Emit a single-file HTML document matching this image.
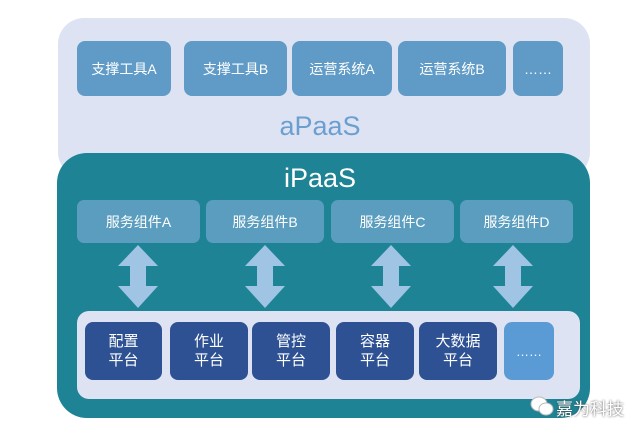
<!DOCTYPE html>
<html><head><meta charset="utf-8"><style>
body{margin:0;width:640px;height:436px;background:#fff;position:relative;overflow:hidden;font-family:"Liberation Sans","Noto Sans CJK SC",sans-serif;}
.a{position:absolute;box-sizing:border-box;display:flex;align-items:center;justify-content:center;text-align:center;color:#fff;}
.t{background:#5f9bc6;border-radius:8px;font-size:14px;top:41px;height:55px;}
.s{background:#5b9dbf;border-radius:7px;font-size:14px;top:200px;height:43px;}
.d{background:#2d5193;border-radius:8px;font-size:15px;line-height:19px;top:322px;height:58px;}
</style></head><body>
<div class="a" style="left:58px;top:18px;width:532px;height:160px;background:#dde3f3;border-radius:26px;"></div>
<div class="a" style="left:0;top:112px;width:320px;height:28px;color:#6b9fd0;font-size:27px;left:160px;">aPaaS</div>
<div class="a t" style="left:77px;width:94px;">支撑工具A</div>
<div class="a t" style="left:184px;width:103px;">支撑工具B</div>
<div class="a t" style="left:292px;width:100px;">运营系统A</div>
<div class="a t" style="left:398px;width:108px;">运营系统B</div>
<div class="a t" style="left:513px;width:50px;">……</div>
<div class="a" style="left:57px;top:153px;width:533px;height:265px;background:#1e8394;border-radius:30px;"></div>
<div class="a" style="left:160px;top:163px;width:320px;height:30px;font-size:27px;">iPaaS</div>
<div class="a s" style="left:77px;width:123px;">服务组件A</div>
<div class="a s" style="left:206px;width:118px;">服务组件B</div>
<div class="a s" style="left:331px;width:123px;">服务组件C</div>
<div class="a s" style="left:460px;width:113px;">服务组件D</div>
<svg style="position:absolute;left:0;top:0" width="640" height="436">
<g fill="#9fc4e4">
<polygon points="138,245 158,266 146,266 146,286 158,286 138,308 118,286 130,286 130,266 118,266"/>
<polygon points="265,245 285,266 273,266 273,286 285,286 265,308 245,286 257,286 257,266 245,266"/>
<polygon points="391,245 411,266 399,266 399,286 411,286 391,308 371,286 383,286 383,266 371,266"/>
<polygon points="513,245 533,266 521,266 521,286 533,286 513,308 493,286 505,286 505,266 493,266"/>
</g></svg>
<div class="a" style="left:77px;top:311px;width:503px;height:88px;background:#dde3f3;border-radius:12px;"></div>
<div class="a d" style="left:85px;width:77px;">配置<br>平台</div>
<div class="a d" style="left:170px;width:78px;">作业<br>平台</div>
<div class="a d" style="left:252px;width:78px;">管控<br>平台</div>
<div class="a d" style="left:336px;width:78px;">容器<br>平台</div>
<div class="a d" style="left:419px;width:78px;">大数据<br>平台</div>
<div class="a d" style="left:504px;width:50px;background:#5b9bd5;font-size:13px;">……</div>
<div class="a" style="left:530px;top:396px;width:24px;height:20px;color:#fff;"><svg width="24" height="20"><ellipse cx="9" cy="8" rx="8" ry="7" fill="#fff" stroke="#bbb"/><ellipse cx="16" cy="13" rx="7" ry="6" fill="#fff" stroke="#bbb"/></svg></div>
<div class="a" style="left:555px;top:396px;width:70px;height:22px;color:#fff;font-size:17px;text-shadow:0 0 2px #444;">嘉为科技</div>
</body></html>
